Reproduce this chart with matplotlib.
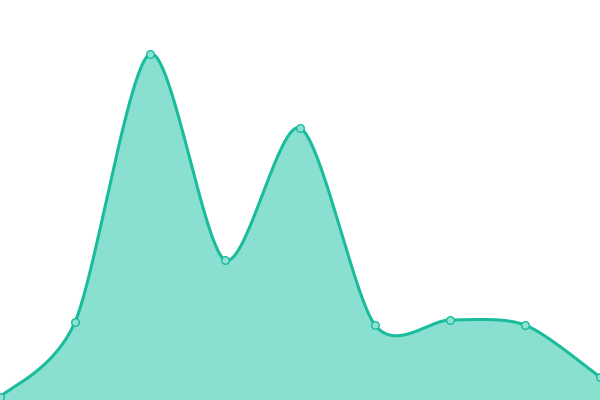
"""Smooth area chart with point markers."""

import numpy as np
import matplotlib
matplotlib.use("Agg")
import matplotlib.pyplot as plt

# ── Data ─────────────────────────────────────────────────────────────────

x_index = [0, 1, 2, 3, 4, 5, 6, 7, 8]
values = [3, 78, 346, 140, 272, 75, 80, 75, 23]

LINE_COLOR = "#1abc9c"
FILL_COLOR = "#8ae0d0"
MARKER_FILL = "#8fe3d2"
TANGENT_SCALE = 0.42


def cardinal(xs, ys, scale=0.5, steps=40):
    """Cardinal spline through the given points."""
    xs = np.asarray(xs, dtype=float)
    ys = np.asarray(ys, dtype=float)
    px = np.concatenate([[xs[0]], xs, [xs[-1]]])
    py = np.concatenate([[ys[0]], ys, [ys[-1]]])
    out_x, out_y = [], []
    t = np.linspace(0, 1, steps, endpoint=False)
    for i in range(1, len(px) - 2):
        x0, x1, x2, x3 = px[i - 1:i + 3]
        y0, y1, y2, y3 = py[i - 1:i + 3]
        mx1, mx2 = (x2 - x0) * scale, (x3 - x1) * scale
        my1, my2 = (y2 - y0) * scale, (y3 - y1) * scale
        h00 = 2 * t**3 - 3 * t**2 + 1
        h10 = t**3 - 2 * t**2 + t
        h01 = -2 * t**3 + 3 * t**2
        h11 = t**3 - t**2
        out_x.append(h00 * x1 + h10 * mx1 + h01 * x2 + h11 * mx2)
        out_y.append(h00 * y1 + h10 * my1 + h01 * y2 + h11 * my2)
    out_x.append([xs[-1]])
    out_y.append([ys[-1]])
    return np.concatenate(out_x), np.concatenate(out_y)


fig = plt.figure(figsize=(6, 4), dpi=100)
ax = fig.add_axes([0, 0, 1, 1])
ax.set_xlim(0, 8)
ax.set_ylim(0, 400)
ax.axis("off")

sx, sy = cardinal(x_index, values, TANGENT_SCALE)
ax.fill_between(sx, sy, 0, color=FILL_COLOR, linewidth=0)
ax.plot(sx, sy, color=LINE_COLOR, linewidth=2.2, solid_capstyle="round")
ax.plot(x_index, values, "o", markersize=5.5, markerfacecolor=MARKER_FILL,
        markeredgecolor=LINE_COLOR, markeredgewidth=1, clip_on=False)

fig.savefig("out.png", dpi=100)
